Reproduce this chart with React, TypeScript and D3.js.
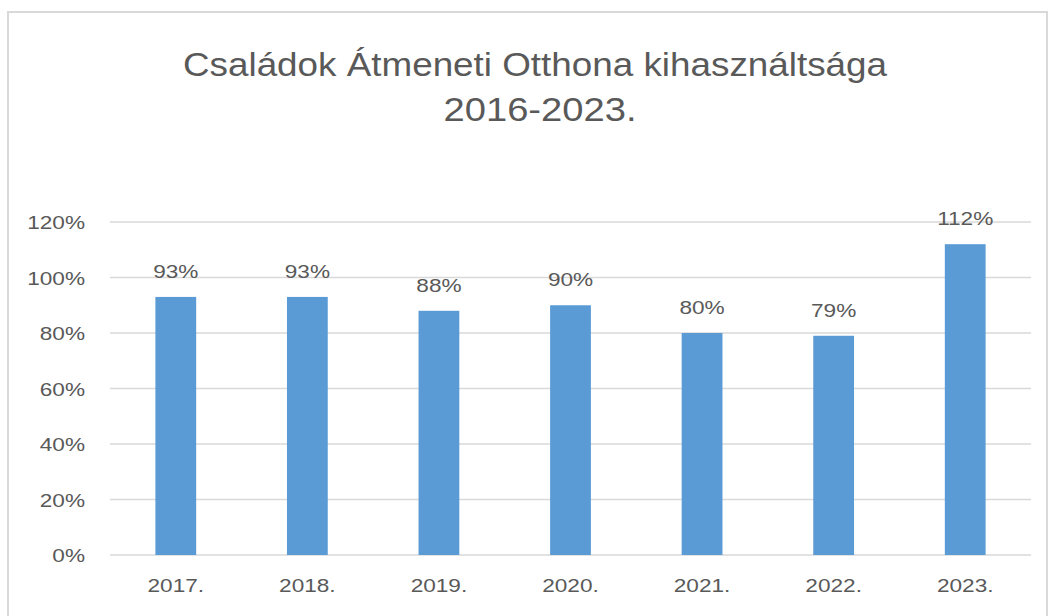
import React from "react";
import * as d3 from "d3";

const categories = ["2017.", "2018.", "2019.", "2020.", "2021.", "2022.", "2023."];
const values = [93, 93, 88, 90, 80, 79, 112];
const yTicks = [0, 20, 40, 60, 80, 100, 120];
const titleLines = ["Családok Átmeneti Otthona kihasználtsága", "2016-2023."];

const W = 1052;
const H = 616;
const plot = { left: 110, right: 1031, top: 222, bottom: 555 };
const textColor = "#595959";
const font = "'Liberation Sans', Arial, sans-serif";
const SX = 1.19;

function Label({ x, y, anchor, children }: { x: number; y: number; anchor: string; children: React.ReactNode }) {
  return (
    <g transform={`translate(${x},${y}) scale(${SX},1)`}>
      <text x={0} y={0} textAnchor={anchor} fontFamily={font} fontSize={19} fill={textColor}>{children}</text>
    </g>
  );
}

export default function App() {
  const x = d3.scaleBand<string>().domain(categories).range([plot.left, plot.right]).padding(0);
  const y = d3.scaleLinear().domain([0, 120]).range([plot.bottom, plot.top]);
  const barW = x.bandwidth() * 0.31;

  return (
    <svg width={W} height={H} style={{ position: "absolute", left: 0, top: 0 }}>
      <rect x={0} y={0} width={W} height={H} fill="#fff" />
      <rect x={8} y={12} width={1039} height={620} fill="none" stroke="#d9d9d9" strokeWidth={2} />
      <text x={535} y={76} textAnchor="middle" fontFamily={font} fontSize={34} fill={textColor}
        textLength={704} lengthAdjust="spacingAndGlyphs">{titleLines[0]}</text>
      <text x={540} y={121} textAnchor="middle" fontFamily={font} fontSize={34} fill={textColor}
        textLength={193} lengthAdjust="spacingAndGlyphs">{titleLines[1]}</text>
      {yTicks.map((t) => (
        <g key={t}>
          <line x1={plot.left} x2={plot.right} y1={y(t)} y2={y(t)} stroke="#d9d9d9" strokeWidth={1.5} />
          <Label x={85} y={y(t) + 7} anchor="end">{t}%</Label>
        </g>
      ))}
      {categories.map((c, i) => {
        const cx = (x(c) as number) + x.bandwidth() / 2;
        return (
          <g key={c}>
            <rect x={cx - barW / 2} y={y(values[i])} width={barW} height={y(0) - y(values[i])} fill="#5b9bd5" />
            <Label x={cx} y={y(values[i]) - 19} anchor="middle">{values[i]}%</Label>
            <Label x={cx} y={592} anchor="middle">{c}</Label>
          </g>
        );
      })}
    </svg>
  );
}
